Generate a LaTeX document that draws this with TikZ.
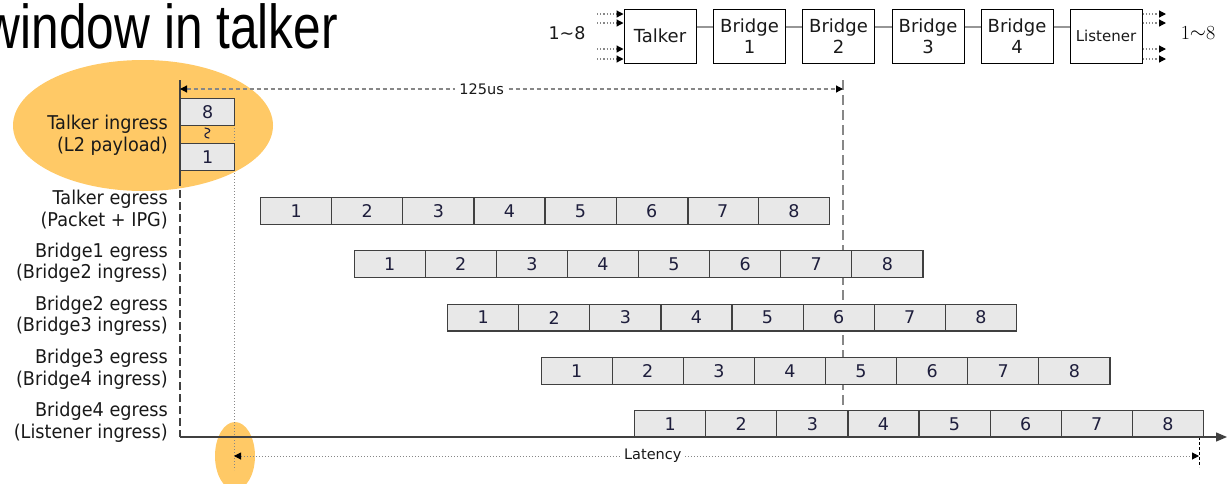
\documentclass[tikz,border=0pt]{standalone}
\usepackage{fontspec}
\setmainfont{DejaVu Sans}
\newfontfamily\labelfont{DejaVu Sans}[FakeStretch=0.93]
\newfontfamily\titlefont{Liberation Sans}[FakeStretch=0.8]
\newfontfamily\lmfont{Latin Modern Roman}
\usetikzlibrary{arrows.meta}
\definecolor{orangefill}{RGB}{255,201,102}
\definecolor{cellfill}{RGB}{232,232,232}
\definecolor{celldraw}{RGB}{64,64,64}
\definecolor{numcol}{RGB}{30,30,60}
\definecolor{txtcol}{RGB}{25,25,25}
\definecolor{guide}{RGB}{135,135,135}
\begin{document}
\begin{tikzpicture}[x=1pt,y=-1pt,
  cell/.style={draw=celldraw, fill=cellfill, line width=1.2pt, minimum width=71.1pt,
    minimum height=26.8pt, inner sep=0pt, anchor=north west,
    font=\fontsize{17.5}{17.5}\selectfont, text=numcol},
  rowlabel/.style={anchor=east, align=right, inner sep=2pt, font=\labelfont\fontsize{19}{21.5}\selectfont, text=txtcol},
  topbox/.style={draw=black, line width=1pt, minimum width=72pt, minimum height=54pt,
    inner sep=0pt, align=center, font=\fontsize{18}{21}\selectfont, text=txtcol},
  blacktip/.style={-{Triangle[length=7pt,width=7pt,color=black]}},
  bothtips/.style={{Triangle[length=7pt,width=7pt,color=black]}-{Triangle[length=7pt,width=7pt,color=black]}},
  smalltext/.style={font=\fontsize{14.5}{14.5}\selectfont, text=txtcol, fill=white, inner sep=4pt},
  linkline/.style={draw={rgb,255:red,150;green,150;blue,150}, line width=2pt},
]
\useasboundingbox (0,0) rectangle (1227,483);

% background highlights
\fill[orangefill] (143,125.5) ellipse [x radius=130pt, y radius=65.5pt];
\fill[orangefill] (235,456) ellipse [x radius=20pt, y radius=34pt];

% title
\node[anchor=base east, inner sep=0pt, font=\titlefont\fontsize{62}{62}\selectfont] (title) at (338,48) {window in talker};

% top chain
\node[topbox] (T) at (660,36) {Talker};
\node[topbox] (B1) at (749.5,36) {Bridge\\1};
\node[topbox] (B2) at (838.5,36) {Bridge\\2};
\node[topbox] (B3) at (928,36) {Bridge\\3};
\node[topbox] (B4) at (1017,36) {Bridge\\4};
\node[topbox, font=\fontsize{15}{15}\selectfont] (L) at (1106,36) {Listener};
\foreach \a/\b in {T/B1,B1/B2,B2/B3,B3/B4,B4/L}
  \draw[linkline] ([yshift=9pt]\a.east) -- ([yshift=9pt]\b.west);
\foreach \yy [count=\i] in {14,23,49,59}{
  \coordinate (in\i) at (597,\yy);
  \coordinate (out\i) at (1166,\yy);
  \draw[guide, dotted, line width=1.2pt, blacktip] (in\i) -- (in\i -| T.west);
  \draw[guide, dotted, line width=1.2pt, blacktip] (out\i -| L.east) -- (out\i);
}
\node[font=\fontsize{17.5}{17.5}\selectfont, text=txtcol] (lin) at (567,33) {1∼8};
\node[font=\lmfont\fontsize{20}{20}\selectfont, text=black] (lout) at (1198,33) {1\raisebox{0.5pt}{$\sim$}8};

% guides
\coordinate (ytop) at (180,80);
\coordinate (ybreak) at (180,178);
\coordinate (origin) at (180,437);
\coordinate (xend) at (1227,437);
\coordinate (w0) at (843,80);
\coordinate (w1) at (843,410);
\coordinate (d0) at (234,125);
\coordinate (d1) at (234,470);
\coordinate (lat0) at (234,456);
\coordinate (lat1) at (1199,456);
\coordinate (t0) at (1199,437);
\coordinate (t1) at (1199,467);
\coordinate (p0) at (180,89);
\coordinate (p1) at (843,89);

\draw[celldraw, line width=1.2pt] (ytop) -- (ybreak);
\draw[celldraw, line width=1.2pt, dash pattern=on 8pt off 4pt] (ybreak) -- (origin);
\draw[guide, line width=1.3pt, dash pattern=on 10pt off 5pt] (w0) -- (w1);
\draw[guide, line width=1pt, dotted] (d0) -- (d1);
\draw[guide, line width=1.2pt, dash pattern=on 4pt off 3pt, bothtips] (p0) -- (p1)
  node[smalltext, pos=0.455] (per) {125us};
\draw[guide, line width=1pt, dotted, bothtips] (lat0) -- (lat1)
  node[smalltext, pos=0.434] (lat) {Latency};
\draw[black, line width=0.8pt, dash pattern=on 3pt off 2pt] (t0) -- (t1);

% talker ingress
\node[cell, minimum width=54pt] (i8) at (180,98) {8};
\node[cell, minimum width=54pt] (i1) at (180,143) {1};
\draw[numcol, line width=1.1pt, line cap=round]
  (205,128) .. controls (211,128.5) and (211,132) .. (207,133)
  .. controls (203.5,134) and (204.5,138) .. (209,138);
\node[rowlabel] (lin0) at (170,135.5) {Talker ingress\\(L2 payload)};

% egress rows
\foreach \r/\lab in {0/{Talker egress\\(Packet + IPG)},
                     1/{Bridge1 egress\\(Bridge2 ingress)},
                     2/{Bridge2 egress\\(Bridge3 ingress)},
                     3/{Bridge3 egress\\(Bridge4 ingress)},
                     4/{Bridge4 egress\\(Listener ingress)}}{
  \node[rowlabel] (lab\r) at (170,{209.5+53.25*\r}) {\lab};
  \foreach \c in {1,...,8}
    \node[cell] (c\r-\c) at ({260+93.5*\r+71.1*(\c-1)},{197+53.25*\r}) {\c};
}
\draw[celldraw, line width=2.4pt] (c0-6.north east) -- (c0-6.south east);

% time axis
\draw[celldraw, line width=1.4pt, -{Triangle[length=11pt,width=9pt]}] (origin) -- (xend);
\end{tikzpicture}
\end{document}
